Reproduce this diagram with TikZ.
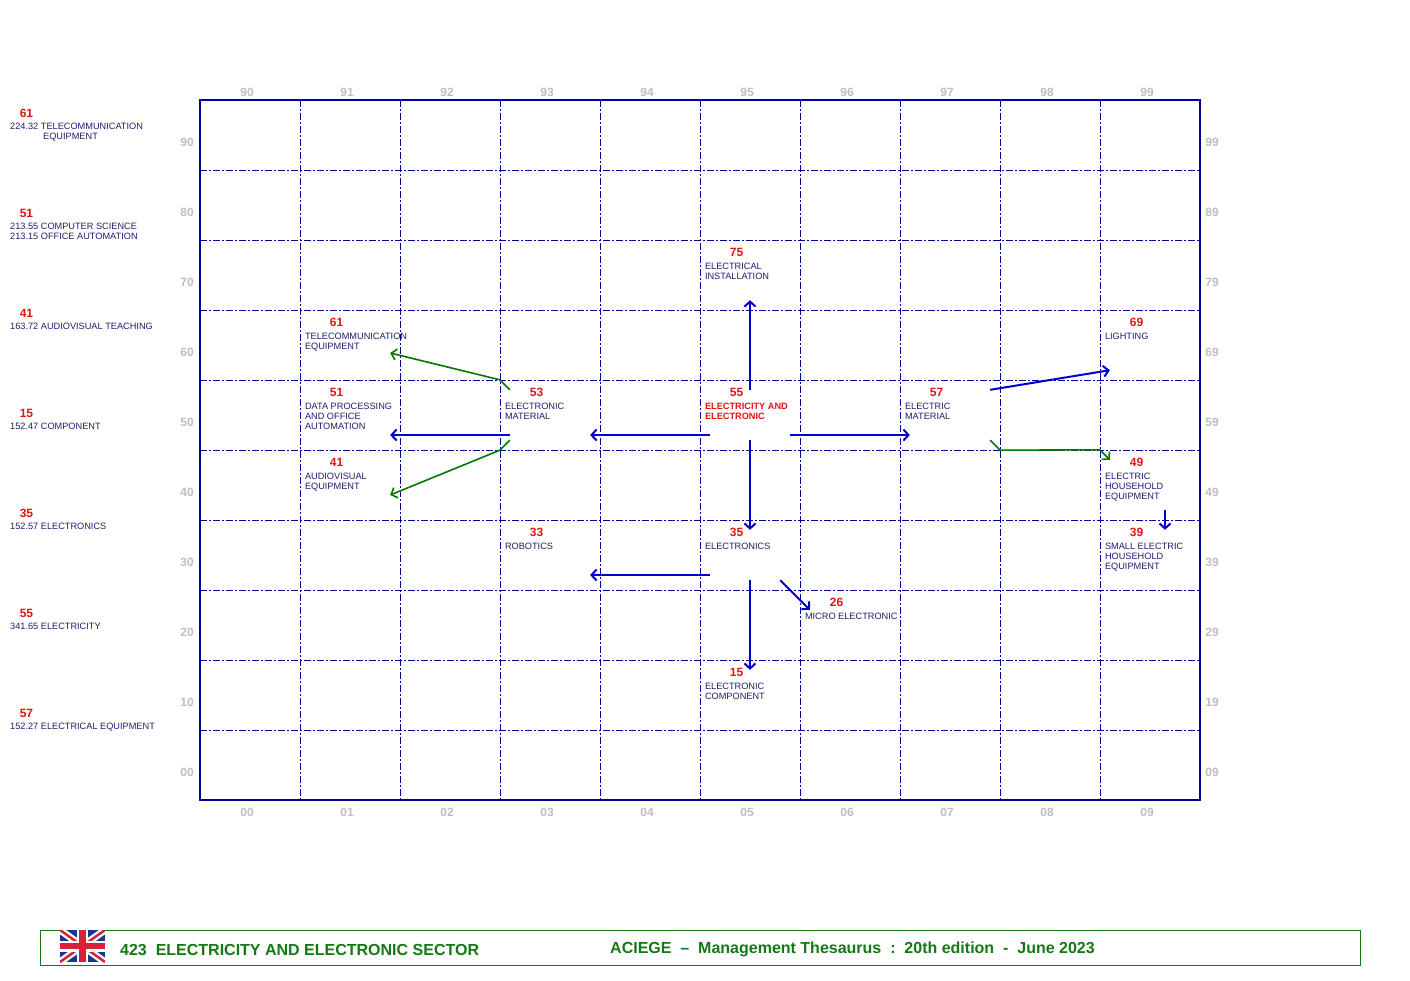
\documentclass[tikz,border=0pt]{standalone}
\usepackage{fontspec}
\setmainfont{Liberation Sans}
\usetikzlibrary{arrows.meta,positioning}
\definecolor{gridblue}{RGB}{0,0,150}
\definecolor{arrblue}{RGB}{0,0,205}
\definecolor{navy}{RGB}{30,30,110}
\definecolor{numred}{RGB}{225,20,20}
\definecolor{axisgray}{RGB}{190,190,190}
\definecolor{darkgreen}{RGB}{0,120,0}
\definecolor{footgreen}{RGB}{20,120,20}
\definecolor{ukblue}{RGB}{25,55,145}
\definecolor{ukred}{RGB}{215,35,55}
\begin{document}
\begin{tikzpicture}[x=1pt,y=-1pt,>={Straight Barb[length=5pt,width=11pt]},
    blk/.style={inner sep=0pt,minimum width=80pt,minimum height=50pt},
    num/.style={font=\fontsize{12}{12}\selectfont\bfseries,text=numred,inner sep=0pt},
    term/.style={font=\fontsize{9.2}{10}\selectfont,text=navy,align=left,inner sep=0pt,anchor=north west},
    axis/.style={font=\fontsize{12}{12}\selectfont\bfseries,text=axisgray,inner sep=0pt},
    gridline/.style={gridblue,line width=1pt,dash pattern=on 7pt off 2pt on 2pt off 2pt},
    link/.style={->,arrblue,line width=2pt},
    sublink/.style={->,darkgreen,line width=1.6pt}]

    \useasboundingbox (0,0) rectangle (1410,980);

    \foreach \i in {1,...,9} \draw[gridline] (200+100*\i,100) -- (200+100*\i,800);
    \foreach \j in {1,...,9} \draw[gridline] (200,100+70*\j) -- (1200,100+70*\j);
    \draw[gridblue,line width=1.2pt] (200,100) rectangle (1200,800);

    \foreach \i in {0,...,9} {
        \pgfmathtruncatemacro\lv{9-\i}
        \node[axis] (top\i) at (247+100*\i,92.5) {9\i};
        \node[axis] (bot\i) at (247+100*\i,812.5) {0\i};
        \node[axis] (lft\i) at (187,142.5+70*\i) {\lv0};
        \node[axis] (rgt\i) at (1212,142.5+70*\i) {\lv9};
    }

    \foreach \y/\n/\txt in {100/61/{224.32 TELECOMMUNICATION\\\hspace*{33pt}EQUIPMENT},
            200/51/{213.55 COMPUTER SCIENCE\\213.15 OFFICE AUTOMATION},
            300/41/{163.72 AUDIOVISUAL TEACHING}, 400/15/{152.47 COMPONENT},
            500/35/{152.57 ELECTRONICS}, 600/55/{341.65 ELECTRICITY},
            700/57/{152.27 ELECTRICAL EQUIPMENT}} {
        \node[num] (l\n) at (26.5,\y+13) {\n};
        \node[term] (lt\n) at (10,\y+22.8) {\txt};
    }

    \foreach \cx/\ry/\n/\txt/\col in {1/3/61/{TELECOMMUNICATION\\EQUIPMENT}/navy,
            1/4/51/{DATA PROCESSING\\AND OFFICE\\AUTOMATION}/navy,
            1/5/41/{AUDIOVISUAL\\EQUIPMENT}/navy,
            3/4/53/{ELECTRONIC\\MATERIAL}/navy, 3/6/33/{ROBOTICS}/navy,
            5/2/75/{ELECTRICAL\\INSTALLATION}/navy,
            5/4/55/{\bfseries ELECTRICITY AND\\\bfseries ELECTRONIC}/numred,
            5/6/35/{ELECTRONICS}/navy, 5/8/15/{ELECTRONIC\\COMPONENT}/navy,
            6/7/26/{MICRO ELECTRONIC}/navy, 7/4/57/{ELECTRIC\\MATERIAL}/navy,
            9/3/69/{LIGHTING}/navy, 9/5/49/{ELECTRIC\\HOUSEHOLD\\EQUIPMENT}/navy,
            9/6/39/{SMALL ELECTRIC\\HOUSEHOLD\\EQUIPMENT}/navy} {
        \node[blk] (b\n) at (250+100*\cx,135+70*\ry) {};
        \node[num] (n\n) at ([xshift=-13.5pt,yshift=-3pt]b\n.north) {\n};
        \node[term,text=\col] (t\n) at ([xshift=-5pt,yshift=-12.8pt]b\n.north west) {\txt};
    }

    \draw[link] (b55.north) -- (b75.south);
    \draw[link] ([yshift=-20pt]b55.west) -- ([yshift=-20pt]b53.east);
    \draw[link] ([yshift=-20pt]b55.east) -- ([yshift=-20pt]b57.west);
    \draw[link] (b55.south) -- (b35.north);
    \draw[link] ([yshift=-20pt]b53.west) -- ([yshift=-20pt]b51.east);
    \draw[sublink] (b53.north west) -- ++(-10,-10) -- ([yshift=-8pt]b61.east);
    \draw[sublink] (b53.south west) -- ++(-10,10) -- ([yshift=-10pt]b41.east);
    \draw[link] (b57.north east) -- (b69.south west);
    \draw[sublink] (b57.south east) -- ++(10,10) -- ([xshift=-10pt,yshift=10pt]b49.north west) -- (b49.north west);
    \draw[link] ([xshift=15pt]b49.south) -- ([xshift=15pt]b39.north);
    \draw[link] ([yshift=-20pt]b35.west) -- ([yshift=-20pt]b33.east);
    \draw[link] (b35.south) -- (b15.north);
    \draw[link] ([xshift=-10pt]b35.south east) -- ([yshift=-10pt]b26.north west);

    \draw[footgreen,line width=1pt] (40,930) rectangle (1360,965);
    \begin{scope}
        \clip (60,930) rectangle (105,962);
        \fill[ukblue] (60,930) rectangle (105,962);
        \draw[white,line width=7pt] (60,930) -- (105,962) (60,962) -- (105,930);
        \draw[ukred,line width=2.5pt] (60,930) -- (105,962) (60,962) -- (105,930);
        \draw[white,line width=11pt] (82.5,930) -- (82.5,962) (60,946) -- (105,946);
        \draw[ukred,line width=6.5pt] (82.5,930) -- (82.5,962) (60,946) -- (105,946);
    \end{scope}
    \node[font=\fontsize{16}{16}\selectfont\bfseries,text=footgreen,anchor=west,inner sep=0pt] (sector) at (120,949.5) {423\ \ ELECTRICITY AND ELECTRONIC SECTOR};
    \node[font=\fontsize{16}{16}\selectfont\bfseries,text=footgreen,anchor=west,inner sep=0pt] (edition) at (610,949.5) {ACIEGE\ \ --\ \ Management Thesaurus\ \ :\ \ 20th edition\ \ -\ \ June 2023};
\end{tikzpicture}
\end{document}
